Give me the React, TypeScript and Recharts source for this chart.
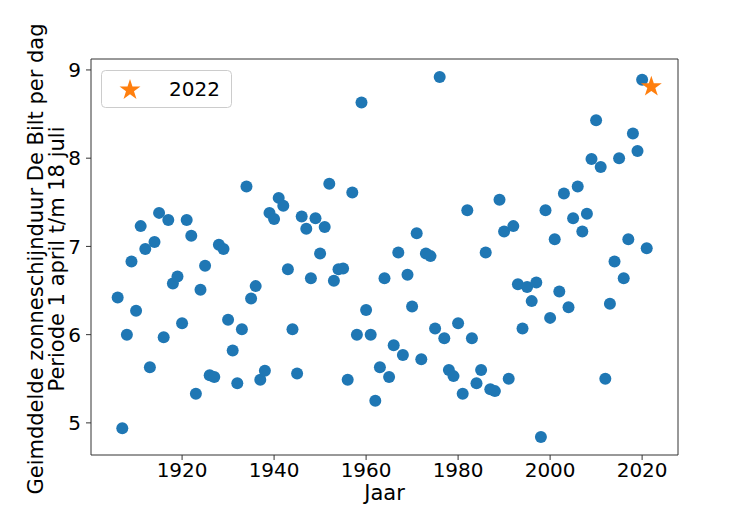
import { ScatterChart, Scatter, XAxis, YAxis, ReferenceArea, Legend, Label, Symbols } from 'recharts';

// Gemiddelde zonneschijnduur De Bilt (uur per dag), periode 1 april t/m 18 juli.
// One value per year, starting at FIRST_YEAR; 2022 is highlighted separately.
const FIRST_YEAR = 1906;
const SUN_HOURS = [
  6.42, 4.94, 6.0, 6.83, 6.27, 7.23, 6.97, 5.63, 7.05, 7.38, // 1906-1915
  5.97, 7.3, 6.58, 6.66, 6.13, 7.3, 7.12, 5.33, 6.51, 6.78, // 1916-1925
  5.54, 5.52, 7.02, 6.97, 6.17, 5.82, 5.45, 6.06, 7.68, 6.41, // 1926-1935
  6.55, 5.49, 5.59, 7.38, 7.31, 7.55, 7.46, 6.74, 6.06, 5.56, // 1936-1945
  7.34, 7.2, 6.64, 7.32, 6.92, 7.22, 7.71, 6.61, 6.74, 6.75, // 1946-1955
  5.49, 7.61, 6.0, 8.63, 6.28, 6.0, 5.25, 5.63, 6.64, 5.52, // 1956-1965
  5.88, 6.93, 5.77, 6.68, 6.32, 7.15, 5.72, 6.92, 6.89, 6.07, // 1966-1975
  8.92, 5.96, 5.6, 5.53, 6.13, 5.33, 7.41, 5.96, 5.45, 5.6, // 1976-1985
  6.93, 5.38, 5.36, 7.53, 7.17, 5.5, 7.23, 6.57, 6.07, 6.54, // 1986-1995
  6.38, 6.59, 4.84, 7.41, 6.19, 7.08, 6.49, 7.6, 6.31, 7.32, // 1996-2005
  7.68, 7.17, 7.37, 7.99, 8.43, 7.9, 5.5, 6.35, 6.83, 8.0, // 2006-2015
  6.64, 7.08, 8.28, 8.08, 8.89, 6.98, // 2016-2021
];
const HIGHLIGHT_YEAR = 2022;
const HIGHLIGHT_HOURS = 8.81;

const X_TICKS = [1920, 1940, 1960, 1980, 2000, 2020];
const Y_TICKS = [5, 6, 7, 8, 9];
const X_DOMAIN: [number, number] = [1900.2, 2027.8];
const Y_DOMAIN: [number, number] = [4.636, 9.124];

const BLUE = '#1f77b4';
const ORANGE = '#ff7f0e';
const FONT = '"DejaVu Sans", sans-serif';

const rows = SUN_HOURS.map((hours, i) => ({ year: FIRST_YEAR + i, hours }));
const highlight = [{ year: HIGHLIGHT_YEAR, hours: HIGHLIGHT_HOURS }];

function Dot(props: { cx?: number; cy?: number }) {
  if (props.cx == null || props.cy == null) return <g />;
  return <circle cx={props.cx} cy={props.cy} r={6} fill={BLUE} />;
}

function Star(props: { cx?: number; cy?: number }) {
  if (props.cx == null || props.cy == null) return <g />;
  return <Symbols cx={props.cx} cy={props.cy} type="star" size={136} fill={ORANGE} />;
}

function YTitle() {
  const cy = 259;
  return (
    <g fontFamily={FONT} fontSize={21} fill="#000">
      <text x={43} y={cy} transform={`rotate(-90, 43, ${cy})`} textAnchor="middle">
        Geimddelde zonneschijnduur De Bilt per dag
      </text>
      <text x={64} y={cy} transform={`rotate(-90, 64, ${cy})`} textAnchor="middle">
        Periode 1 april t/m 18 juli
      </text>
    </g>
  );
}

function XTitle(props: { viewBox?: { x: number; y: number; width: number; height: number } }) {
  const vb = props.viewBox;
  if (!vb) return null;
  return (
    <text x={vb.x + vb.width / 2} y={500} textAnchor="middle" fontFamily={FONT} fontSize={21} fill="#000">
      Jaar
    </text>
  );
}

function LegendBox() {
  return (
    <svg width={131} height={38} style={{ display: 'block' }}>
      <rect x={0.5} y={0.5} width={130} height={37} rx={4} fill="#fff" fillOpacity={0.8} stroke="#cccccc" />
      <Symbols cx={29} cy={20} type="star" size={136} fill={ORANGE} />
      <text x={68} y={26} fontFamily={FONT} fontSize={20} fill="#000">{HIGHLIGHT_YEAR}</text>
    </svg>
  );
}

export default function App() {
  const tickStyle = { fill: '#000', fontSize: 20, fontFamily: FONT };
  return (
    <div style={{ width: 750, height: 520, margin: -8, background: '#fff' }}>
      <ScatterChart width={750} height={520} margin={{ top: 59, right: 72, bottom: 25, left: 31 }}>
        <ReferenceArea
          x1={X_DOMAIN[0]}
          x2={X_DOMAIN[1]}
          y1={Y_DOMAIN[0]}
          y2={Y_DOMAIN[1]}
          fill="none"
          stroke="#333"
          strokeWidth={1}
          ifOverflow="visible"
        />
        <XAxis
          type="number"
          dataKey="year"
          domain={X_DOMAIN}
          ticks={X_TICKS}
          allowDataOverflow
          height={40}
          axisLine={false}
          tickSize={5}
          tickMargin={3}
          stroke="#333"
          tick={tickStyle}
        >
          <Label content={XTitle} />
        </XAxis>
        <YAxis
          type="number"
          dataKey="hours"
          domain={Y_DOMAIN}
          ticks={Y_TICKS}
          allowDataOverflow
          width={60}
          axisLine={false}
          tickSize={5}
          tickMargin={5}
          stroke="#333"
          tick={tickStyle}
        >
          <Label content={YTitle} />
        </YAxis>
        <Scatter data={rows} shape={Dot} isAnimationActive={false} legendType="none" />
        <Scatter data={highlight} shape={Star} isAnimationActive={false} name="2022" />
        <Legend
          layout="vertical"
          align="center"
          verticalAlign="middle"
          wrapperStyle={{ top: 70, left: 101, width: 131, height: 38, right: 'auto', bottom: 'auto' }}
          content={() => <LegendBox />}
        />
      </ScatterChart>
    </div>
  );
}
